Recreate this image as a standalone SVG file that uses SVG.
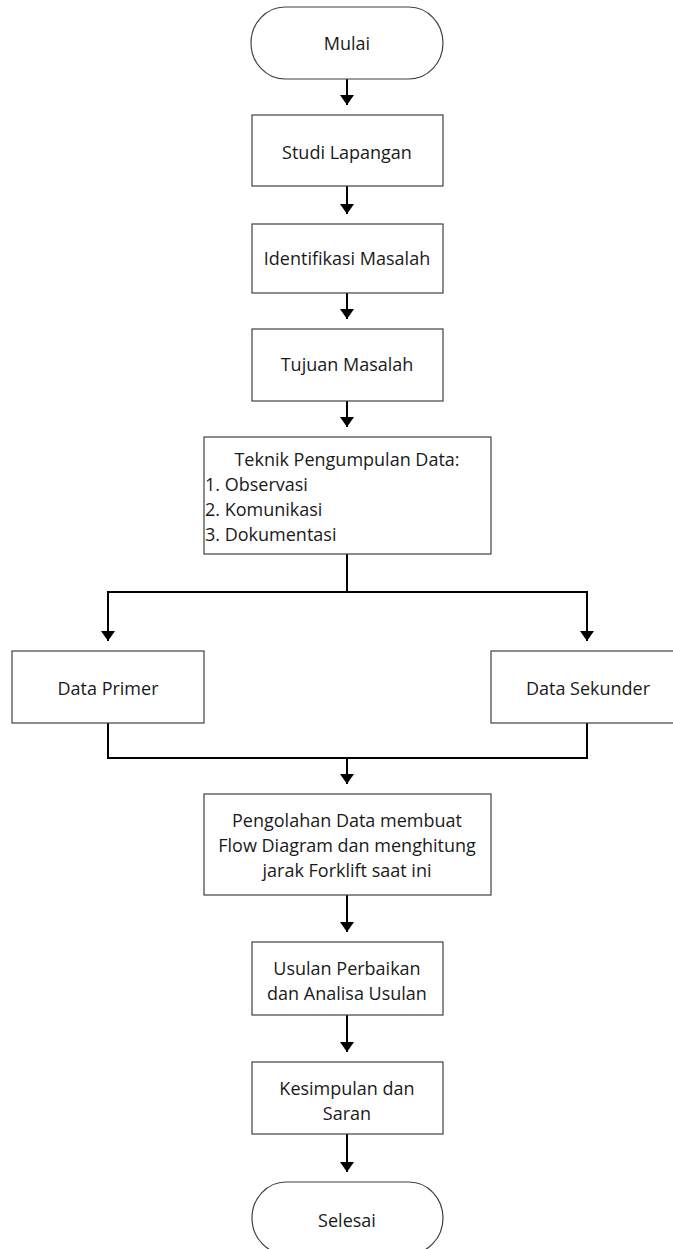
<svg xmlns="http://www.w3.org/2000/svg" width="673" height="1249" viewBox="0 0 673 1249">
<style>
.box{fill:#fff;stroke:#404040;stroke-width:1.2}
.t{font-family:"Open Sans","Noto Sans","Liberation Sans",sans-serif;font-size:18px;fill:#1a1a1a;text-anchor:middle}
.tl{text-anchor:start}
.c{fill:none;stroke:#000;stroke-width:2}
</style>
<defs>
<marker id="ah" markerUnits="userSpaceOnUse" markerWidth="16" markerHeight="14" refX="10" refY="7" orient="auto">
<path d="M0,0 L10,7 L0,14 Z" fill="#000"/>
</marker>
</defs>
<g id="connectors">
<path class="c" d="M347,79 V105" marker-end="url(#ah)"/>
<path class="c" d="M347,186 V214" marker-end="url(#ah)"/>
<path class="c" d="M347,293 V319" marker-end="url(#ah)"/>
<path class="c" d="M347,401 V427" marker-end="url(#ah)"/>
<path class="c" d="M347,554 V592"/>
<path class="c" d="M108,641 V592 H587 V641"/>
<path class="c" d="M108,592 V641" marker-end="url(#ah)"/>
<path class="c" d="M587,592 V641" marker-end="url(#ah)"/>
<path class="c" d="M108,723 V758 H587 V723"/>
<path class="c" d="M347,758 V784" marker-end="url(#ah)"/>
<path class="c" d="M347,895 V932" marker-end="url(#ah)"/>
<path class="c" d="M347,1015 V1052" marker-end="url(#ah)"/>
<path class="c" d="M347,1134 V1172" marker-end="url(#ah)"/>
</g>
<g id="mulai">
<rect class="box" x="251" y="7" width="192" height="72" rx="34" ry="36"/>
<text class="t" x="347" y="50">Mulai</text>
</g>
<g id="studi">
<rect class="box" x="252" y="115" width="191" height="71"/>
<text class="t" x="347" y="159">Studi Lapangan</text>
</g>
<g id="identifikasi">
<rect class="box" x="252" y="224" width="191" height="69"/>
<text class="t" x="347" y="265">Identifikasi Masalah</text>
</g>
<g id="tujuan">
<rect class="box" x="252" y="329" width="191" height="72"/>
<text class="t" x="347" y="371">Tujuan Masalah</text>
</g>
<g id="teknik">
<rect class="box" x="204" y="437" width="287" height="117"/>
<text class="t" x="347" y="466">Teknik Pengumpulan Data:</text>
<text class="t tl" x="205" y="491">1. Observasi</text>
<text class="t tl" x="205" y="516">2. Komunikasi</text>
<text class="t tl" x="205" y="541">3. Dokumentasi</text>
</g>
<g id="primer">
<rect class="box" x="12" y="651" width="192" height="72"/>
<text class="t" x="108" y="695">Data Primer</text>
</g>
<g id="sekunder">
<rect class="box" x="491" y="651" width="192" height="72"/>
<text class="t" x="588" y="695">Data Sekunder</text>
</g>
<g id="pengolahan">
<rect class="box" x="204" y="794" width="287" height="101"/>
<text class="t" x="347" y="827">Pengolahan Data membuat</text>
<text class="t" x="347" y="852">Flow Diagram dan menghitung</text>
<text class="t" x="347" y="877">jarak Forklift saat ini</text>
</g>
<g id="usulan">
<rect class="box" x="252" y="942" width="191" height="73"/>
<text class="t" x="347" y="975">Usulan Perbaikan</text>
<text class="t" x="347" y="1000">dan Analisa Usulan</text>
</g>
<g id="kesimpulan">
<rect class="box" x="252" y="1062" width="191" height="72"/>
<text class="t" x="347" y="1095">Kesimpulan dan</text>
<text class="t" x="347" y="1120">Saran</text>
</g>
<g id="selesai">
<rect class="box" x="252" y="1182" width="191" height="72" rx="34" ry="36"/>
<text class="t" x="347" y="1227">Selesai</text>
</g>
</svg>
